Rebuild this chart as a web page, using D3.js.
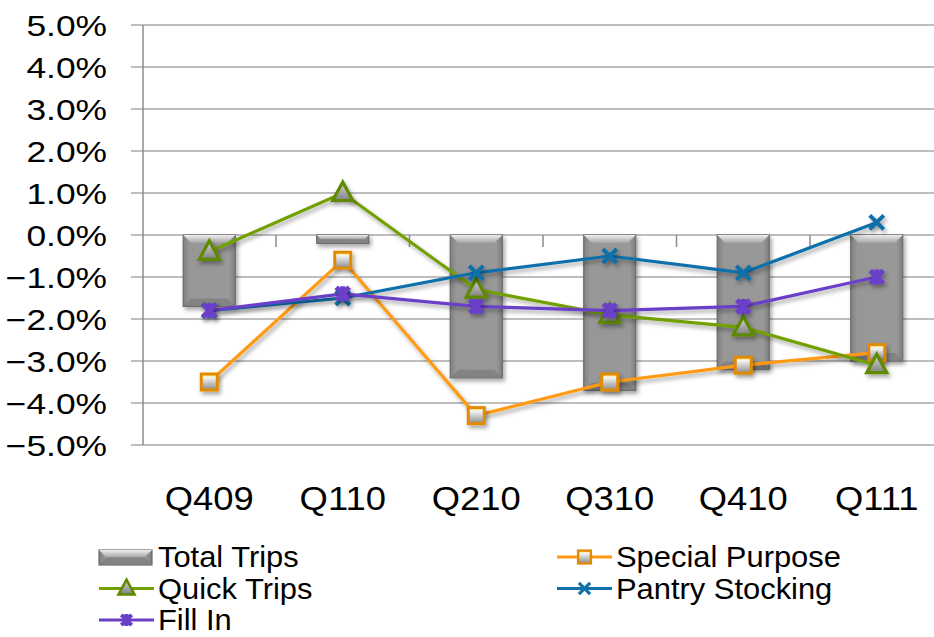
<!DOCTYPE html>
<html>
<head>
<meta charset="utf-8">
<script src="https://cdn.jsdelivr.net/npm/d3@7/dist/d3.min.js"></script>
<style>
  body { margin: 0; background: #fff; }
  text { font-family: "Liberation Sans", Arial, sans-serif; fill: #000; }
</style>
</head>
<body>
<div id="viz"></div>
<script>
// quarters on the x axis
var quarters = ['Q409', 'Q110', 'Q210', 'Q310', 'Q410', 'Q111'];
// percent change
var totalTrips     = [-1.7, -0.2, -3.4, -3.7, -3.2, -3.0];
var specialPurpose = [-3.5, -0.6, -4.3, -3.5, -3.1, -2.8];
var quickTrips     = [-0.4,  1.0, -1.3, -1.9, -2.2, -3.1];
var pantryStocking = [-1.8, -1.5, -0.9, -0.5, -0.9,  0.3];
var fillIn         = [-1.8, -1.4, -1.7, -1.8, -1.7, -1.0];
var yTicks = [5, 4, 3, 2, 1, 0, -1, -2, -3, -4, -5];

var W = 934, H = 637;
var svg = d3.select('#viz').append('svg')
  .attr('width', W).attr('height', H);

var defs = svg.append('defs');
var sh = defs.append('filter').attr('id', 'shadow')
  .attr('x', '-50%').attr('y', '-50%').attr('width', '200%').attr('height', '200%');
sh.append('feDropShadow').attr('dx', 2).attr('dy', 3)
  .attr('stdDeviation', 2).attr('flood-color', '#000').attr('flood-opacity', 0.35);

var barGrad = defs.append('linearGradient').attr('id', 'barGrad')
  .attr('x1', 0).attr('x2', 1).attr('y1', 0).attr('y2', 0);
barGrad.append('stop').attr('offset', '0%').attr('stop-color', '#808080');
barGrad.append('stop').attr('offset', '12%').attr('stop-color', '#979797');
barGrad.append('stop').attr('offset', '88%').attr('stop-color', '#999999');
barGrad.append('stop').attr('offset', '100%').attr('stop-color', '#7e7e7e');

var topGrad = defs.append('linearGradient').attr('id', 'topGrad')
  .attr('x1', 0).attr('x2', 0).attr('y1', 0).attr('y2', 1);
topGrad.append('stop').attr('offset', '0%').attr('stop-color', '#eeeeee');
topGrad.append('stop').attr('offset', '100%').attr('stop-color', '#a4a4a4');

var mkGrad = defs.append('linearGradient').attr('id', 'mkGrad')
  .attr('x1', 0).attr('x2', 0).attr('y1', 0).attr('y2', 1);
mkGrad.append('stop').attr('offset', '0%').attr('stop-color', '#d8d8d8');
mkGrad.append('stop').attr('offset', '100%').attr('stop-color', '#808080');

var sqGrad = defs.append('linearGradient').attr('id', 'sqGrad')
  .attr('x1', 0).attr('x2', 0).attr('y1', 0).attr('y2', 1);
sqGrad.append('stop').attr('offset', '0%').attr('stop-color', '#ffd84a');
sqGrad.append('stop').attr('offset', '22%').attr('stop-color', '#f4f4f4');
sqGrad.append('stop').attr('offset', '100%').attr('stop-color', '#8a8a8a');

var x = d3.scaleBand().domain(quarters).range([142.5, 943.5]);
var y = d3.scaleLinear().domain([-5, 5]).range([445, 25]);
var cx = function(q) { return x(q) + x.bandwidth() / 2; };
var barW = 52;

// gridlines
svg.append('g').selectAll('line').data(yTicks).join('line')
  .attr('x1', 131).attr('x2', W)
  .attr('y1', d => y(d)).attr('y2', d => y(d))
  .attr('stroke', '#a8a8a8').attr('stroke-width', 1.5);
// left axis
svg.append('line').attr('x1', 143).attr('x2', 143)
  .attr('y1', y(5)).attr('y2', y(-5))
  .attr('stroke', '#8c8c8c').attr('stroke-width', 1.5);
// x-axis tick marks at the category boundaries
svg.append('g').selectAll('line').data(quarters.slice(1)).join('line')
  .attr('x1', d => x(d)).attr('x2', d => x(d))
  .attr('y1', y(0)).attr('y2', y(0) + 12)
  .attr('stroke', '#8c8c8c').attr('stroke-width', 1.5);

// y labels (horizontally wider in the picture)
svg.append('g').selectAll('text').data(yTicks).join('text')
  .attr('transform', d => 'translate(107,' + (y(d) + 10.5) + ') scale(1.22,1)')
  .attr('text-anchor', 'end').style('font-size', '29px')
  .text(d => d3.format('.1f')(d) + '%');

// x labels
svg.append('g').selectAll('text').data(quarters).join('text')
  .attr('transform', d => 'translate(' + cx(d) + ',510) scale(1.07,1)')
  .attr('text-anchor', 'middle').style('font-size', '34px')
  .text(d => d);

function bevelBar(g, x0, y0, w, h) {
  var b = Math.min(8, h / 2);
  g.append('rect').attr('x', x0).attr('y', y0).attr('width', w).attr('height', h)
    .attr('fill', 'url(#barGrad)').attr('stroke', '#6a6a6a').attr('stroke-width', 1.2);
  g.append('path')
    .attr('d', 'M' + x0 + ',' + y0 + 'h' + w + 'l' + (-b) + ',' + b + 'h' + (-(w - 2 * b)) + 'z')
    .attr('fill', 'url(#topGrad)');
  g.append('path')
    .attr('d', 'M' + x0 + ',' + (y0 + h) + 'h' + w + 'l' + (-b) + ',' + (-b) + 'h' + (-(w - 2 * b)) + 'z')
    .attr('fill', '#7a7a7a').attr('opacity', 0.7);
}

// bars
var bars = svg.append('g').attr('filter', 'url(#shadow)');
quarters.forEach(function(q, i) {
  var v = totalTrips[i];
  var g = bars.append('g');
  bevelBar(g, cx(q) - barW / 2, y(Math.max(0, v)), barW, Math.abs(y(v) - y(0)));
});

// marker drawers
function triangle(g, px, py, s) {
  s = s || 1;
  g.append('path')
    .attr('d', 'M' + px + ',' + (py - 11 * s) + 'L' + (px + 10 * s) + ',' + (py + 7.5 * s) + 'L' + (px - 10 * s) + ',' + (py + 7.5 * s) + 'Z')
    .attr('fill', 'url(#mkGrad)').attr('stroke', '#5f8a00').attr('stroke-width', 3.2 * s)
    .attr('stroke-linejoin', 'miter');
}
function square(g, px, py, s) {
  s = s || 1;
  g.append('rect').attr('x', px - 8 * s).attr('y', py - 8 * s)
    .attr('width', 16 * s).attr('height', 16 * s)
    .attr('fill', 'url(#sqGrad)').attr('stroke', '#e28a00').attr('stroke-width', 3 * s);
}
function cross(g, px, py, s) {
  s = s || 1;
  g.append('path')
    .attr('d', 'M' + (px - 7 * s) + ',' + (py - 7 * s) + 'L' + (px + 7 * s) + ',' + (py + 7 * s) +
      'M' + (px - 7 * s) + ',' + (py + 7 * s) + 'L' + (px + 7 * s) + ',' + (py - 7 * s))
    .attr('stroke', '#1170aa').attr('stroke-width', 4 * s).attr('fill', 'none');
}
function star(g, px, py, s) {
  s = s || 1;
  g.append('path')
    .attr('d', 'M' + (px - 6.5 * s) + ',' + (py - 6.5 * s) + 'L' + (px + 6.5 * s) + ',' + (py + 6.5 * s) +
      'M' + (px - 6.5 * s) + ',' + (py + 6.5 * s) + 'L' + (px + 6.5 * s) + ',' + (py - 6.5 * s) +
      'M' + px + ',' + (py - 7.5 * s) + 'L' + px + ',' + (py + 7.5 * s))
    .attr('stroke', '#6a3fc8').attr('stroke-width', 5 * s).attr('fill', 'none');
}

var series = [
  { name: 'Special Purpose', values: specialPurpose, color: '#ff9a12', marker: square },
  { name: 'Quick Trips', values: quickTrips, color: '#72a000', marker: triangle },
  { name: 'Pantry Stocking', values: pantryStocking, color: '#1170aa', marker: cross },
  { name: 'Fill In', values: fillIn, color: '#6a3fc8', marker: star }
];

var line = d3.line().x((d, i) => cx(quarters[i])).y(d => y(d));

series.forEach(function(s) {
  var g = svg.append('g');
  g.append('path').datum(s.values).attr('d', line)
    .attr('fill', 'none').attr('stroke', s.color).attr('stroke-width', 3.2)
    .attr('filter', 'url(#shadow)');
  var mg = g.append('g').attr('filter', 'url(#shadow)');
  s.values.forEach(function(v, i) { s.marker(mg, cx(quarters[i]), y(v)); });
});

// legend
var legendItems = [
  { name: 'Total Trips', col: 0, row: 0 },
  { name: 'Special Purpose', col: 1, row: 0, s: series[0] },
  { name: 'Quick Trips', col: 0, row: 1, s: series[1] },
  { name: 'Pantry Stocking', col: 1, row: 1, s: series[2] },
  { name: 'Fill In', col: 0, row: 2, s: series[3] }
];
var lg = svg.append('g');
legendItems.forEach(function(it) {
  var lx = it.col === 0 ? 99 : 557;
  var base = 567 + it.row * 31.5;
  var my = base - 10;
  var g = lg.append('g');
  if (!it.s) {
    bevelBar(g, lx, my - 7, 53, 15);
  } else {
    g.append('line').attr('x1', lx).attr('x2', lx + 55).attr('y1', my).attr('y2', my)
      .attr('stroke', it.s.color).attr('stroke-width', 3);
    it.s.marker(g, lx + 27.5, my, 0.8);
  }
  g.append('text').attr('transform', 'translate(' + (lx + 59) + ',' + base + ') scale(1.03,1)')
    .style('font-size', '30px').text(it.name);
});
</script>
</body>
</html>
